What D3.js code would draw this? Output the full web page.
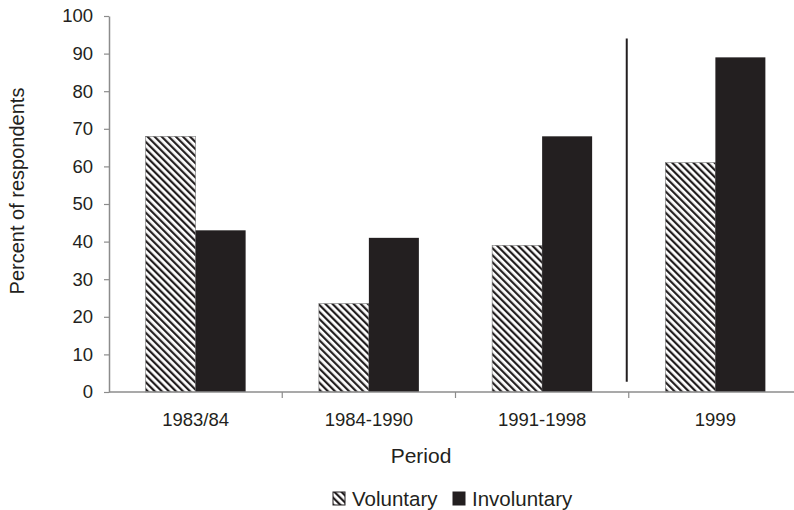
<!DOCTYPE html>
<html>
<head>
<meta charset="utf-8">
<script src="https://cdn.jsdelivr.net/npm/d3@7"></script>
<style>
  body { margin: 0; background: #fff; }
  text { font-family: "Liberation Sans", Arial, sans-serif; fill: #231f20; }
</style>
</head>
<body>
<svg id="chart"></svg>
<script>
const periods = ['1983/84', '1984-1990', '1991-1998', '1999'];
const voluntary = [68, 23.5, 39, 61];
const involuntary = [43, 41, 68, 89];
const seriesNames = ['Voluntary', 'Involuntary'];
const yTicks = [0, 10, 20, 30, 40, 50, 60, 70, 80, 90, 100];
// separator line drawn between 1991-1998 and 1999, in data units
const separator = [2.7, 94];

const width = 794, height = 510;
const margin = { top: 16, right: -8, bottom: 118, left: 109 };
const ink = '#231f20';
const axisColor = '#8c8c8c';

const svg = d3.select('#chart')
    .attr('width', width)
    .attr('height', height);

const defs = svg.append('defs');
const hatch = defs.append('pattern')
    .attr('id', 'hatch')
    .attr('patternUnits', 'userSpaceOnUse')
    .attr('width', 5)
    .attr('height', 5)
    .attr('patternTransform', 'rotate(-45)');
hatch.append('rect').attr('width', 5).attr('height', 5).attr('fill', '#fff');
hatch.append('rect').attr('x', 0).attr('width', 2.2).attr('height', 5).attr('fill', ink);

const innerW = width - margin.left - margin.right;
const innerH = height - margin.top - margin.bottom;

const chart = svg.append('g')
    .attr('transform', `translate(${margin.left}, ${margin.top})`);

const xscale = d3.scaleBand()
    .domain(periods)
    .range([0, innerW])
    .paddingInner(0)
    .paddingOuter(0);

const xsub = d3.scaleBand()
    .domain(seriesNames)
    .range([0, 100])
    .padding(0);

const yscale = d3.scaleLinear()
    .domain([0, 100])
    .range([innerH, 0]);

const data = periods.map((p, i) => ({ period: p, values: [
    { key: 'Voluntary', value: voluntary[i] },
    { key: 'Involuntary', value: involuntary[i] }
]}));

const groups = chart.selectAll('g.group')
    .data(data)
    .join('g')
    .attr('class', 'group')
    .attr('transform', d => `translate(${xscale(d.period) + xscale.bandwidth() / 2 - 50}, 0)`);

groups.selectAll('rect')
    .data(d => d.values)
    .join('rect')
    .attr('x', d => xsub(d.key))
    .attr('width', xsub.bandwidth())
    .attr('y', d => yscale(d.value))
    .attr('height', d => innerH - yscale(d.value))
    .attr('fill', d => d.key === 'Voluntary' ? 'url(#hatch)' : ink)
    .attr('stroke', d => d.key === 'Voluntary' ? '#777' : 'none')
    .attr('stroke-width', 0.6);

// y axis
const yaxis = d3.axisLeft(yscale)
    .tickValues(yTicks)
    .tickSize(5)
    .tickSizeOuter(0)
    .tickPadding(11);
const yg = chart.append('g').call(yaxis);
yg.select('.domain').attr('stroke', axisColor).attr('stroke-width', 1.5);
yg.selectAll('.tick line').attr('stroke', axisColor).attr('stroke-width', 1.2);
yg.selectAll('.tick text').attr('font-size', 18.5).attr('fill', ink)
    .attr('font-family', '"Liberation Sans", Arial, sans-serif');

// x axis, ticks on category boundaries
const xaxisG = chart.append('g').attr('transform', `translate(0, ${innerH})`);
xaxisG.append('line')
    .attr('x1', 0).attr('x2', innerW)
    .attr('stroke', axisColor).attr('stroke-width', 1.5);
xaxisG.selectAll('line.tick')
    .data(periods.slice(1))
    .join('line')
    .attr('class', 'tick')
    .attr('x1', d => xscale(d)).attr('x2', d => xscale(d))
    .attr('y1', 0).attr('y2', 6)
    .attr('stroke', axisColor).attr('stroke-width', 1.2);
xaxisG.selectAll('text')
    .data(periods)
    .join('text')
    .attr('x', d => xscale(d) + xscale.bandwidth() / 2)
    .attr('y', 34)
    .attr('text-anchor', 'middle')
    .attr('font-size', 18.5)
    .text(d => d);

// separator line
const sepX = xscale('1999') - 2;
chart.append('line')
    .attr('x1', sepX).attr('x2', sepX)
    .attr('y1', yscale(separator[0])).attr('y2', yscale(separator[1]))
    .attr('stroke', ink).attr('stroke-width', 2);

// axis titles
svg.append('text')
    .attr('x', 421)
    .attr('y', 463)
    .attr('text-anchor', 'middle')
    .attr('font-size', 21)
    .text('Period');

svg.append('text')
    .attr('transform', 'rotate(-90)')
    .attr('x', -191)
    .attr('y', 24)
    .attr('text-anchor', 'middle')
    .attr('font-size', 20)
    .text('Percent of respondents');

// legend
const legend = svg.append('g').attr('transform', 'translate(333, 492)');
const legendItems = [
    { key: 'Voluntary', x: 0 },
    { key: 'Involuntary', x: 120 }
];
const li = legend.selectAll('g')
    .data(legendItems)
    .join('g')
    .attr('transform', d => `translate(${d.x}, 0)`);
li.append('rect')
    .attr('width', 12).attr('height', 13)
    .attr('fill', d => d.key === 'Voluntary' ? 'url(#hatch)' : ink)
    .attr('stroke', ink).attr('stroke-width', 1);
li.append('text')
    .attr('x', 19)
    .attr('y', 14)
    .attr('font-size', 20.5)
    .text(d => d.key);
</script>
</body>
</html>
